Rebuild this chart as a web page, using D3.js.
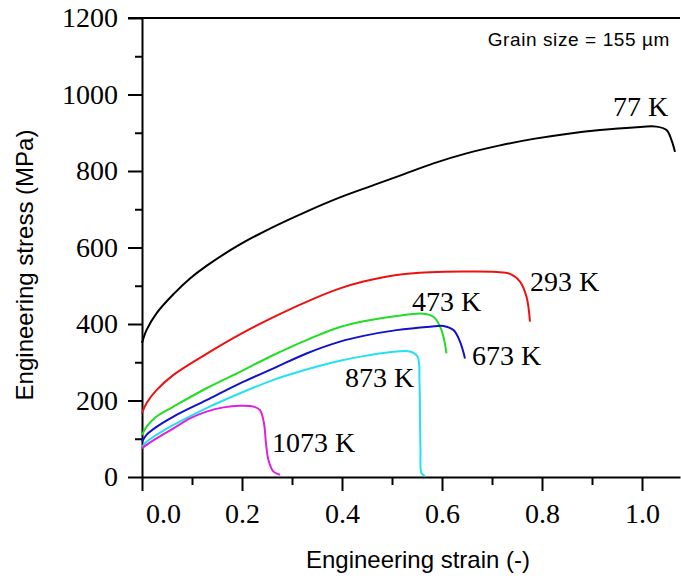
<!DOCTYPE html>
<html>
<head>
<meta charset="utf-8">
<script src="https://cdn.jsdelivr.net/npm/d3@7"></script>
<style>
  body { margin: 0; background: #fff; }
  .axis path, .axis line { stroke: #000; stroke-width: 2px; }
  .title { font-family: 'Liberation Sans', Arial, sans-serif; font-size: 24px; fill: #000; }
  .curve-label { font-family: 'Liberation Serif', 'Times New Roman', serif; font-size: 28px; fill: #000; }
</style>
</head>
<body>
<script>
// values
const temps = ['77 K', '293 K', '473 K', '673 K', '873 K', '1073 K'];
const colors = ['#000000', '#ee1111', '#22dd22', '#1111cc', '#22e2f0', '#dd22dd'];

const strain77 = [0, 0.009, 0.029, 0.063, 0.096, 0.129, 0.196, 0.263, 0.329, 0.396, 0.463, 0.516, 0.583, 0.649, 0.716, 0.783, 0.849, 0.916, 0.983, 1.029, 1.049, 1.059, 1.066];
const stress77 = [350, 384, 428, 478, 519, 552, 608, 654, 694, 731, 763, 788, 820, 846, 867, 884, 897, 907, 914, 916, 907, 881, 850];

const strain293 = [0, 0.009, 0.029, 0.063, 0.129, 0.196, 0.263, 0.329, 0.396, 0.443, 0.509, 0.576, 0.643, 0.709, 0.736, 0.756, 0.769, 0.776];
const stress293 = [167, 193, 227, 267, 322, 373, 418, 458, 493, 511, 528, 535, 537, 536, 531, 511, 471, 406];

const strain473 = [0, 0.009, 0.029, 0.063, 0.129, 0.196, 0.263, 0.329, 0.396, 0.443, 0.509, 0.563, 0.583, 0.599, 0.609];
const stress473 = [110, 131, 158, 184, 232, 275, 319, 358, 392, 407, 421, 427, 419, 384, 323];

const strain673 = [0, 0.009, 0.029, 0.063, 0.129, 0.196, 0.263, 0.329, 0.396, 0.443, 0.509, 0.576, 0.603, 0.623, 0.636, 0.646];
const stress673 = [92, 110, 131, 158, 201, 245, 284, 323, 354, 369, 384, 393, 395, 384, 354, 310];

const strain873 = [0, 0.009, 0.029, 0.063, 0.129, 0.196, 0.263, 0.329, 0.396, 0.443, 0.509, 0.536, 0.551, 0.555, 0.556, 0.557, 0.559, 0.566];
const stress873 = [79, 92, 110, 136, 180, 219, 254, 281, 304, 316, 328, 328, 315, 245, 158, 71, 10, 3];

const strain1073 = [0, 0.009, 0.029, 0.063, 0.096, 0.129, 0.163, 0.196, 0.223, 0.236, 0.244, 0.248, 0.253, 0.263, 0.276];
const stress1073 = [75, 84, 101, 127, 153, 171, 182, 186, 184, 175, 140, 88, 44, 14, 6];

// label anchors in data units (strain, stress)
const labelStrain = [0.942, 0.776, 0.54, 0.66, 0.406, 0.26];
const labelStress = [944, 486, 434, 293, 235, 65];

const xMajor = [0, 0.2, 0.4, 0.6, 0.8, 1.0];
const xMinor = [0.1, 0.3, 0.5, 0.7, 0.9];
const yMajor = [0, 200, 400, 600, 800, 1000, 1200];
const yMinor = [100, 300, 500, 700, 900, 1100];

const strains = [strain77, strain293, strain473, strain673, strain873, strain1073];
const stresses = [stress77, stress293, stress473, stress673, stress873, stress1073];

const W = 681, H = 578;
const margin = {top: 18, right: 1, bottom: 101, left: 142};
const width = W - margin.left - margin.right,
    height = H - margin.top - margin.bottom;

const x = d3.scaleLinear().domain([0, width / 500]).range([0, width]);
const y = d3.scaleLinear().domain([0, 1200]).range([height, 0]);

const serif = "Liberation Serif, Times New Roman, serif";

const svg = d3.select('body').append('svg')
    .attr('width', W)
    .attr('height', H);

const g = svg.append('g')
    .attr('transform', `translate(${margin.left}, ${margin.top})`);

const serifAxis = s => s
    .attr('font-family', serif)
    .attr('font-size', 28)
    .selectAll('.tick text').attr('fill', '#000');

// minor ticks
g.append('g')
    .attr('class', 'axis')
    .call(d3.axisLeft(y).tickValues(yMinor).tickSize(7).tickFormat(''))
    .call(s => s.select('.domain').remove());

g.append('g')
    .attr('class', 'axis')
    .attr('transform', `translate(0, ${height})`)
    .call(d3.axisBottom(x).tickValues(xMinor).tickSize(8).tickFormat(''))
    .call(s => s.select('.domain').remove());

// major axes
g.append('g')
    .attr('class', 'axis')
    .call(d3.axisLeft(y).tickValues(yMajor).tickSize(14).tickSizeOuter(0).tickPadding(10)
        .tickFormat(d3.format('d')))
    .call(serifAxis);

const xAx = g.append('g')
    .attr('class', 'axis')
    .attr('transform', `translate(0, ${height})`)
    .call(d3.axisBottom(x).tickValues(xMajor).tickSize(14).tickSizeOuter(0).tickPadding(12)
        .tickFormat(d3.format('.1f')))
    .call(serifAxis);

// first label sits a little to the right in the original
xAx.selectAll('.tick text').filter(d => d === 0).attr('dx', 21);

// top frame line
g.append('line')
    .attr('x1', -14).attr('x2', width)
    .attr('y1', y(1200)).attr('y2', y(1200))
    .attr('stroke', '#000').attr('stroke-width', 2);

const line = d3.line()
    .curve(d3.curveCatmullRom.alpha(0.5))
    .x(d => x(d[0]))
    .y(d => y(d[1]));

temps.forEach((t, i) => {
    const pts = strains[i].map((s, j) => [s, stresses[i][j]]);
    g.append('path')
        .datum(pts)
        .attr('fill', 'none')
        .attr('stroke', colors[i])
        .attr('stroke-width', 2)
        .attr('stroke-linejoin', 'round')
        .attr('d', line);

    g.append('text')
        .attr('class', 'curve-label')
        .attr('x', x(labelStrain[i]))
        .attr('y', y(labelStress[i]))
        .text(t);
});

g.append('text')
    .attr('x', 670 - margin.left)
    .attr('y', 46 - margin.top)
    .attr('text-anchor', 'end')
    .style('font-family', "'Liberation Sans', Arial, sans-serif")
    .style('font-size', '19px')
    .style('letter-spacing', '0.6px')
    .text('Grain size = 155 µm');

svg.append('text')
    .attr('class', 'title')
    .attr('text-anchor', 'middle')
    .attr('x', 418)
    .attr('y', 568)
    .text('Engineering strain (-)');

svg.append('text')
    .attr('class', 'title')
    .attr('text-anchor', 'middle')
    .attr('transform', 'translate(33, 265) rotate(-90)')
    .text('Engineering stress (MPa)');
</script>
</body>
</html>
